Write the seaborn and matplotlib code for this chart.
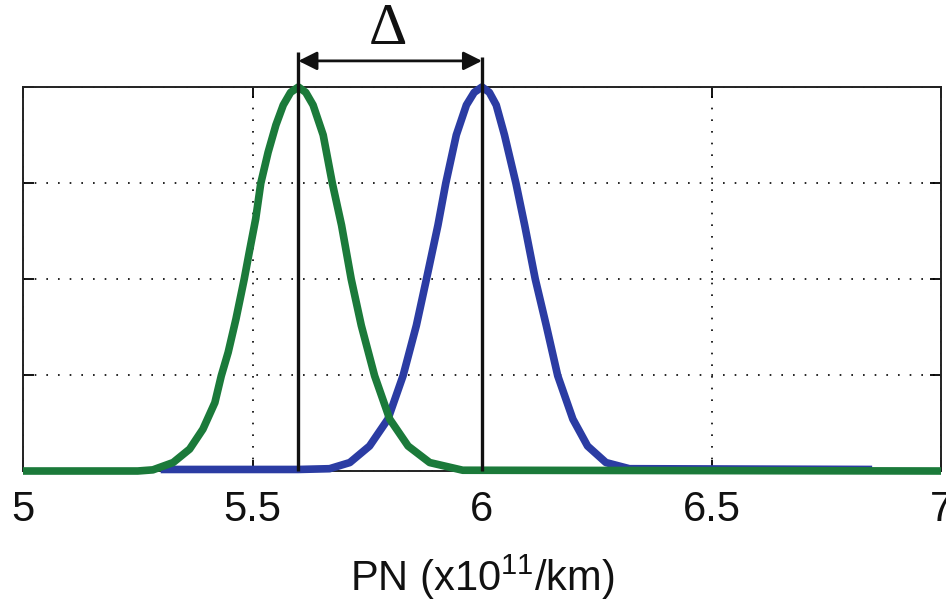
import numpy as np
import pandas as pd
import matplotlib
matplotlib.use("Agg")
import matplotlib.pyplot as plt
import seaborn as sns

# ---- data ----
green_x = [5.000, 5.250, 5.283, 5.327, 5.363, 5.392, 5.418, 5.432, 5.447, 5.464, 5.482,
           5.493, 5.507, 5.518, 5.534, 5.551, 5.567, 5.583, 5.600, 5.616, 5.632, 5.654,
           5.674, 5.694, 5.715, 5.737, 5.766, 5.799, 5.839, 5.886, 5.958, 7.000]
green_y = [0.000, 0.000, 0.003, 0.022, 0.057, 0.109, 0.178, 0.248, 0.309, 0.396, 0.500,
           0.570, 0.657, 0.749, 0.830, 0.901, 0.953, 0.986, 1.000, 0.986, 0.953, 0.875,
           0.749, 0.640, 0.500, 0.379, 0.248, 0.135, 0.065, 0.022, 0.002, 0.000]

blue_x = [5.300, 5.600, 5.668, 5.712, 5.755, 5.795, 5.828, 5.857, 5.879, 5.904, 5.921,
          5.944, 5.966, 5.983, 6.000, 6.016, 6.031, 6.049, 6.074, 6.093, 6.116, 6.140,
          6.165, 6.198, 6.230, 6.270, 6.321, 6.850]
blue_y = [0.004, 0.004, 0.006, 0.022, 0.065, 0.135, 0.248, 0.379, 0.500, 0.640, 0.749,
          0.875, 0.953, 0.986, 1.000, 0.986, 0.953, 0.875, 0.749, 0.640, 0.500, 0.379,
          0.248, 0.135, 0.065, 0.022, 0.006, 0.004]

peak_x = [5.6, 6.0]
x_ticks = [5, 5.5, 6, 6.5, 7]
x_tick_labels = ["5", "5.5", "6", "6.5", "7"]
y_ticks = [0, 0.25, 0.5, 0.75, 1.0]
x_label = r"PN (x10$^{11}$/km)"
delta_label = "Δ"

GREEN = "#1b7a3a"
BLUE = "#2b3ca3"

sns.set_style("white")
plt.rcParams["font.family"] = ["Liberation Sans", "DejaVu Sans"]
plt.rcParams["mathtext.default"] = "regular"

fig = plt.figure(figsize=(9.46, 6.02), dpi=100)
ax = fig.add_axes([23 / 946, 1 - 471 / 602, (941 - 23) / 946, (471 - 87) / 602])

df_b = pd.DataFrame({"x": blue_x, "y": blue_y})
df_g = pd.DataFrame({"x": green_x, "y": green_y})
sns.lineplot(data=df_b, x="x", y="y", ax=ax, color=BLUE, lw=5.5, clip_on=False,
             solid_joinstyle="round", solid_capstyle="butt", zorder=3)
sns.lineplot(data=df_g, x="x", y="y", ax=ax, color=GREEN, lw=5.5, clip_on=False,
             solid_joinstyle="round", solid_capstyle="butt", zorder=4)

ax.set_xlim(5, 7)
ax.set_ylim(0, 1)

# vertical markers at the peaks + arrow
tops = [1.091, 1.078]
for px, top in zip(peak_x, tops):
    ax.plot([px, px], [0, top], color="#111111", lw=2.4, clip_on=False, zorder=5,
            solid_capstyle="butt")
ax.annotate("", xy=(peak_x[1], 1.068), xytext=(peak_x[0], 1.068),
            arrowprops=dict(arrowstyle="<|-|>", color="#111111", lw=2.0,
                            mutation_scale=28, shrinkA=0, shrinkB=0),
            annotation_clip=False)
ax.text(np.mean(peak_x) - 0.006, 1.148, delta_label, ha="center", va="center",
        fontsize=43, family=["Liberation Serif", "DejaVu Serif"], color="#111111")

# grid / ticks
ax.set_xticks(x_ticks)
ax.set_xticklabels(x_tick_labels)
ax.set_yticks(y_ticks)
ax.set_yticklabels([])
ax.grid(True, color="black", linestyle=(0, (1, 6)), lw=1.2)
ax.tick_params(axis="both", direction="in", length=8, width=1.3, color="black",
               top=True, right=True, bottom=True, left=True)
ax.tick_params(axis="x", labelsize=30, pad=14, labelcolor="#111111")
for s in ax.spines.values():
    s.set_color("#222222")
    s.set_linewidth(1.4)

ax.set_xlabel(x_label, fontsize=30, labelpad=16, color="#111111")
ax.set_ylabel("")

fig.savefig("out.png", dpi=100, facecolor="white")
